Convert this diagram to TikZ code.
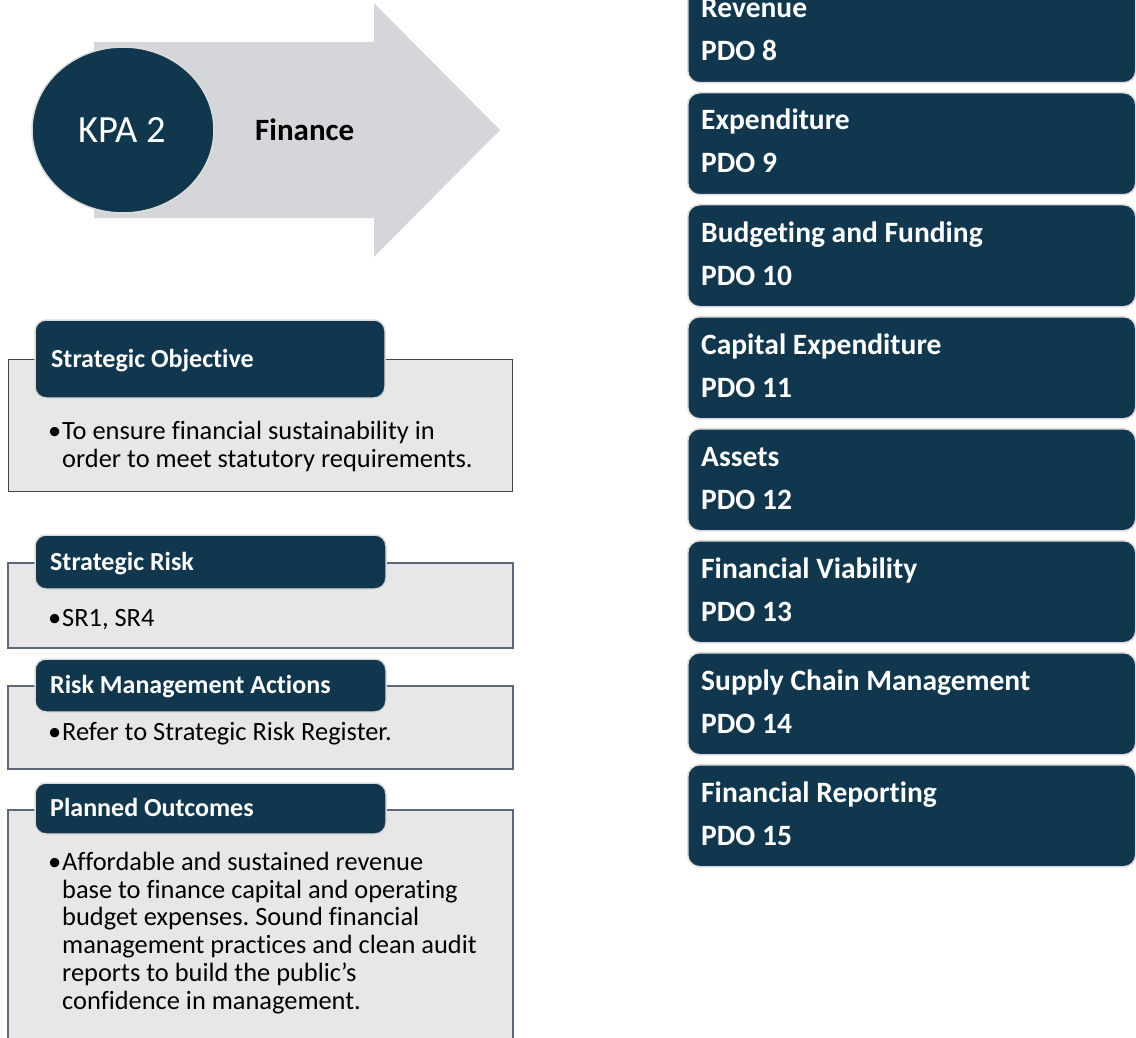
\documentclass[tikz,border=0pt]{standalone}
\usepackage{fontspec}
\setmainfont{Carlito}[RawFeature={-liga;-clig;-calt;-dlig}]
\usetikzlibrary{shapes.geometric}
\definecolor{navy}{HTML}{11374F}
\definecolor{arrowgray}{HTML}{D4D6D9}
\definecolor{panel}{HTML}{E7E7E7}
\definecolor{rim}{HTML}{5A6879}
\definecolor{darkrim}{HTML}{454545}
\definecolor{halo}{HTML}{DCDCDC}
\frenchspacing

\begin{document}
\begin{tikzpicture}[x=1pt,y=-1pt,
  tab/.style={fill=navy, draw=halo, line width=1.5pt, rounded corners=11pt},
  panelbox/.style={fill=panel, draw=rim, line width=1.5pt},
  tabtitle/.style={anchor=base west, text=white, inner sep=0pt,
    font=\bfseries\fontsize{26}{28}\selectfont},
  bodytext/.style={anchor=north west, align=left, inner sep=0pt,
    font=\fontsize{26.4}{27.7}\selectfont},
  pdobox/.style={fill=navy, draw=halo, line width=1.5pt, rounded corners=12pt},
  pdotext/.style={anchor=base west, text=white, inner sep=0pt,
    font=\bfseries\fontsize{29.5}{31}\selectfont}]

\useasboundingbox (0,0) rectangle (1136,1038);
\clip (0,0) rectangle (1136,1038);

% ---- KPA arrow ----
\fill[arrowgray] (94,42) -- (374,42) -- (374,3) -- (500,130) -- (374,257)
  -- (374,218) -- (94,218) -- cycle;
\node[ellipse, fill=navy, draw=halo, line width=1.5pt,
  minimum width=182pt, minimum height=166pt, inner sep=0pt] (kpa) at (123,130) {};
\node[text=white, inner sep=0pt, font=\fontsize{38.5}{40}\selectfont] (kpalabel) at (122,130) {KPA 2};
\node[anchor=west, inner sep=0pt, font=\bfseries\fontsize{31}{33}\selectfont] (finance) at (255,130) {Finance};

% ---- Strategic Objective ----
\draw[panelbox, draw=darkrim, line width=1pt] (8,359) rectangle (512,491);
\draw[tab] (35,320) rectangle (385,398);
\node[tabtitle] (objtitle) at (51,367) {Strategic Objective};
\node[bodytext] (objbody) at (48,421)
  {\makebox[14pt][l]{•}To ensure financial sustainability in\\
   \hspace*{14pt}order to meet statutory requirements.};

% ---- Strategic Risk ----
\draw[panelbox] (8,563) rectangle (513,648);
\draw[tab] (35,535) rectangle (386,589);
\node[tabtitle] (risktitle) at (50,570) {Strategic Risk};
\node[bodytext] (riskbody) at (48,609) {\makebox[14pt][l]{•}SR1, SR4};

% ---- Risk Management Actions ----
\draw[panelbox] (8,686) rectangle (513,769);
\draw[tab] (35,659) rectangle (386,712);
\node[tabtitle] (acttitle) at (50,693) {Risk Management Actions};
\node[bodytext] (actbody) at (48,722) {\makebox[14pt][l]{•}Refer to Strategic Risk Register.};

% ---- Planned Outcomes ----
\draw[panelbox] (8,810) rectangle (513,1060);
\draw[tab] (35,783) rectangle (386,834);
\node[tabtitle] (outtitle) at (50,816) {Planned Outcomes};
\node[bodytext] (outbody) at (48,852)
  {\makebox[14pt][l]{•}Affordable and sustained revenue\\
   \hspace*{14pt}base to finance capital and operating\\
   \hspace*{14pt}budget expenses. Sound financial\\
   \hspace*{14pt}management practices and clean audit\\
   \hspace*{14pt}reports to build the public’s\\
   \hspace*{14pt}confidence in management.};

% ---- PDO column ----
\foreach \i/\top/\name/\pdo in {
   1/-20/Revenue/8,
   2/92/Expenditure/9,
   3/204/Budgeting and Funding/10,
   4/316/Capital Expenditure/11,
   5/428/Assets/12,
   6/540/Financial Viability/13,
   7/652/Supply Chain Management/14,
   8/764/Financial Reporting/15} {
  \node[pdobox, anchor=north west, minimum width=448pt, minimum height=102pt,
    inner sep=0pt] (pdo\i) at (687,\top) {};
  \node[pdotext] (pdoname\i) at (701,\top+38) {\name};
  \node[pdotext] (pdonum\i) at (701,\top+81) {PDO \pdo};
}
\end{tikzpicture}
\end{document}
